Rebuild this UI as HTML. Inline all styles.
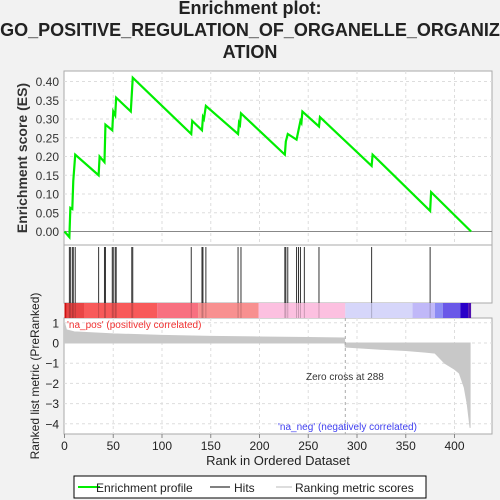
<!DOCTYPE html>
<html><head><meta charset="utf-8"><style>
body{margin:0;background:#f2f2f2;}
svg{display:block;font-family:"Liberation Sans",sans-serif;}
</style></head><body>
<svg id="chart" width="500" height="500" viewBox="0 0 500 500" xmlns="http://www.w3.org/2000/svg">
<rect width="500" height="500" fill="#f2f2f2"/>
<text x="250" y="14" text-anchor="middle" font-size="18" font-weight="bold" fill="#222">Enrichment plot:</text>
<text x="250" y="36" text-anchor="middle" font-size="18" font-weight="bold" fill="#222">GO_POSITIVE_REGULATION_OF_ORGANELLE_ORGANIZ</text>
<text x="250" y="58" text-anchor="middle" font-size="18" font-weight="bold" fill="#222">ATION</text>
<rect x="64" y="71" width="428" height="174" fill="#fff" stroke="#aaa"/>
<rect x="64" y="245" width="428" height="58" fill="#fff" stroke="#aaa"/>
<rect x="64" y="318" width="428" height="116" fill="#fff" stroke="#aaa"/>
<g id="grid"></g>
<g id="colorbar"></g>
<g id="hits"></g>
<g id="metric"></g>
<g id="es"></g>
<g id="axes"></g>
<text transform="translate(27,158) rotate(-90)" text-anchor="middle" font-size="14" font-weight="bold" fill="#333">Enrichment score (ES)</text>
<text transform="translate(39,376) rotate(-90)" text-anchor="middle" font-size="12" fill="#222">Ranked list metric (PreRanked)</text>
<text x="278" y="465" text-anchor="middle" font-size="13" fill="#222">Rank in Ordered Dataset</text>
<text x="67" y="328" font-size="10" fill="#f03030">'na_pos' (positively correlated)</text>
<text x="278" y="430" font-size="10" fill="#4040f0">'na_neg' (negatively correlated)</text>
<text x="306" y="380" font-size="10" fill="#333">Zero cross at 288</text>
<g>
<rect x="74" y="476" width="352" height="22" fill="#fff" stroke="#000"/>
<line x1="78" y1="487" x2="100" y2="487" stroke="#00ee00" stroke-width="2"/>
<text x="96" y="492" font-size="12" fill="#222">Enrichment profile</text>
<line x1="210" y1="487" x2="230" y2="487" stroke="#000"/>
<text x="234" y="492" font-size="12" fill="#222">Hits</text>
<line x1="276" y1="487" x2="292" y2="487" stroke="#bbb"/>
<text x="295" y="492" font-size="12" fill="#222">Ranking metric scores</text>
</g>
</svg>
<script>
const hitRanks=[5,6,8,9,11,35,41,42,49,50,52,53,69,70,130,141,142,145,178,181,226,227,229,238,240,242,246,261,315,375];
const esRanks=[0,5,6,8,9,11,35,36,41,42,49,50,52,53,68,70,130,131,141,142,143,145,178,179,180,181,226,227,229,238,240,242,243,244,261,262,315,316,375,376,417];
const esValues=[0,-0.015,0.063,0.06,0.135,0.205,0.15,0.2,0.185,0.285,0.27,0.32,0.31,0.357,0.32,0.41,0.26,0.295,0.27,0.305,0.3,0.335,0.26,0.29,0.285,0.315,0.205,0.24,0.26,0.245,0.27,0.295,0.29,0.32,0.28,0.305,0.175,0.205,0.055,0.105,0];
const esTicks=[0,0.05,0.1,0.15,0.2,0.25,0.3,0.35,0.4];
const metricRanks=[0,2,10,50,100,150,200,250,287,288,320,350,370,380,390,400,405,410,413,415,416];
const metricValues=[1.0,0.65,0.55,0.45,0.38,0.33,0.3,0.27,0.25,-0.2,-0.3,-0.37,-0.45,-0.5,-1.0,-1.3,-1.5,-2.2,-3.0,-3.8,-4.2];
const metricTicks=[1,0,-1,-2,-3,-4];
const rankTicks=[0,50,100,150,200,250,300,350,400];
const colorStops=[0,2,20,95,137,199,288,357,380,388,406,414,417];
const colorFills=["#d01010","#e84545","#f85a5a","#f87080","#f89090","#fcc0e0","#d6d6fa","#c0b8f8","#8c8cf4","#6a58e8","#2a00c8","#5010b0"];
const NS="http://www.w3.org/2000/svg";
const X=r=>64.5+r*0.975;
const YE=v=>231.5-v*375;
const YM=v=>343-v*20.2;
function el(t,a,p){const e=document.createElementNS(NS,t);for(const k in a)e.setAttribute(k,a[k]);document.getElementById(p).appendChild(e);return e;}
rankTicks.forEach(r=>{if(r>0){
 let g=el('line',{x1:X(r),x2:X(r),y1:71,y2:245,stroke:'#ddd','stroke-dasharray':'3,3'},'grid');
 
 
 let g2=el('line',{x1:X(r),x2:X(r),y1:318,y2:434,stroke:'#ddd','stroke-dasharray':'3,3'},'grid');
 
 }
 let t=el('text',{x:X(r),y:450,'text-anchor':'middle','font-size':12,fill:'#222'},'axes');t.textContent=r;
 
 
 el('line',{x1:X(r),x2:X(r),y1:434,y2:438,stroke:'#888'},'axes');
});
esTicks.forEach(v=>{
 let g=el('line',{x1:64,x2:492,y1:YE(v),y2:YE(v),stroke:v===0?'#888':'#ddd','stroke-dasharray':v===0?'':'3,3'},'grid');
 
 
 let t=el('text',{x:59,y:YE(v)+4.5,'text-anchor':'end','font-size':12,fill:'#333'},'axes');t.textContent=v.toFixed(2);
 
 
});
metricTicks.forEach(v=>{
 let g=el('line',{x1:64,x2:492,y1:YM(v),y2:YM(v),stroke:'#ddd','stroke-dasharray':'3,3'},'grid');
 
 
 let t=el('text',{x:59,y:YM(v)+4.5,'text-anchor':'end','font-size':12,fill:'#222'},'axes');t.textContent=v===0?'0':(v<0?'\u2212'+(-v):v);
 
 
});
for(let i=0;i<colorFills.length;i++){
 let r=el('rect',{x:X(colorStops[i]),y:303,width:X(colorStops[i+1])-X(colorStops[i]),height:15,fill:colorFills[i]},'colorbar');
 
 
}
hitRanks.forEach(r=>{
 let l=el('line',{x1:X(r),x2:X(r),y1:247,y2:303,stroke:'#333','stroke-width':1},'hits');
 
 
 el('line',{x1:X(r),x2:X(r),y1:303,y2:318,stroke:'rgba(0,0,0,0.2)'},'hits');
});
let d='M'+X(0)+','+YM(0);
metricRanks.forEach((r,i)=>{d+=' L'+X(r)+','+YM(metricValues[i]);});
d+=' L'+X(metricRanks[metricRanks.length-1])+','+YM(0)+' Z';
let m=el('path',{d:d,fill:'#c8c8c8',stroke:'#c8c8c8'},'metric');


let zc=el('line',{x1:X(288),x2:X(288),y1:318,y2:434,stroke:'#aaa','stroke-dasharray':'3,3'},'metric');


let pts=esRanks.map((r,i)=>X(r)+','+YE(esValues[i])).join(' ');
let p=el('polyline',{points:pts,fill:'none',stroke:'#00ee00','stroke-width':2.2},'es');


</script>
</body></html>
